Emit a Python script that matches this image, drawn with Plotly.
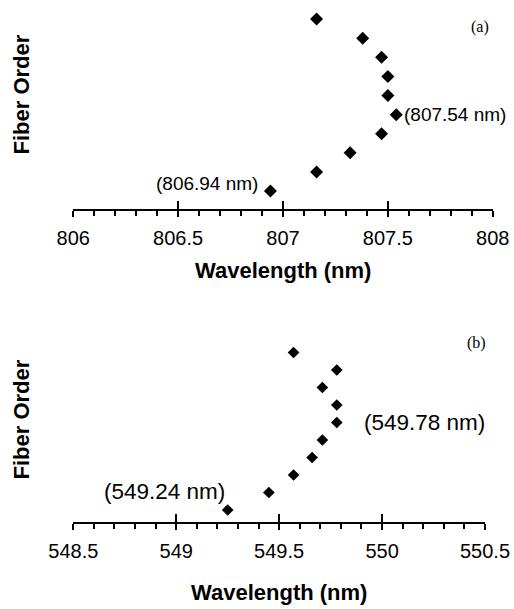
import plotly.graph_objects as go

# ---- data ----
order = [1, 2, 3, 4, 5, 6, 7, 8, 9, 10]
wavelength_a = [806.94, 807.16, 807.32, 807.47, 807.54, 807.50, 807.50, 807.47, 807.38, 807.16]
wavelength_b = [549.25, 549.45, 549.57, 549.66, 549.71, 549.78, 549.78, 549.71, 549.78, 549.57]
ticks_a = [806, 806.5, 807, 807.5, 808]
ticks_b = [548.5, 549, 549.5, 550, 550.5]
label_a_max = "(807.54 nm)"
label_a_min = "(806.94 nm)"
label_b_max = "(549.78 nm)"
label_b_min = "(549.24 nm)"

W, H = 514, 609
FONT = "Liberation Sans, Arial, sans-serif"

def px(x):
    return x / W

def py(y):
    return 1 - y / H

fig = go.Figure()
fig.add_trace(go.Scatter(x=wavelength_a, y=order, mode="markers", xaxis="x", yaxis="y",
                         marker=dict(symbol="diamond", size=10, color="black"), showlegend=False))
fig.add_trace(go.Scatter(x=wavelength_b, y=order, mode="markers", xaxis="x2", yaxis="y2",
                         marker=dict(symbol="diamond", size=9, color="black"), showlegend=False))

dom_a = [px(73.3), px(492.7)]
dom_b = [px(73.3), px(485)]

def xaxis_common(rng, ticks, dom, anchor):
    return dict(range=[rng[0], rng[1]], domain=dom, anchor=anchor, automargin=False,
                tickvals=ticks, ticktext=[f"{t:g}" for t in ticks],
                showline=True, linecolor="black", linewidth=2,
                ticks="outside", ticklen=6, tickwidth=2, tickcolor="black",
                minor=dict(dtick=0.1, ticks="outside", ticklen=5, tickwidth=2, tickcolor="black",
                           showgrid=False),
                showgrid=False, zeroline=False,
                tickfont=dict(family=FONT, size=20, color="black"),
                ticklabelstandoff=4)

def xaxis_overlay(rng, ticks, dom, anchor, over):
    return dict(range=[rng[0], rng[1]], domain=dom, anchor=anchor, overlaying=over,
                automargin=False,
                tickvals=ticks, showticklabels=False, showline=False,
                ticks="inside", ticklen=8, tickwidth=2, tickcolor="black",
                showgrid=False, zeroline=False)

fig.update_layout(
    width=W, height=H,
    margin=dict(l=0, r=0, t=0, b=0, pad=0, autoexpand=False),
    paper_bgcolor="white", plot_bgcolor="white",
    hovermode=False,
    xaxis=xaxis_common([806, 808], ticks_a, dom_a, "y"),
    xaxis3=xaxis_overlay([806, 808], ticks_a, dom_a, "y", "x"),
    yaxis=dict(range=[0.06, 11], domain=[py(209), 1.0], visible=False, anchor="x", automargin=False),
    xaxis2=xaxis_common([548.5, 550.5], ticks_b, dom_b, "y2"),
    xaxis4=xaxis_overlay([548.5, 550.5], ticks_b, dom_b, "y2", "x2"),
    yaxis2=dict(range=[0.33, 11], domain=[py(521.7), py(335)], visible=False, anchor="x2", automargin=False),
)

# invisible traces to activate overlay axes
fig.add_trace(go.Scatter(x=[None], y=[None], xaxis="x3", yaxis="y", showlegend=False, hoverinfo="skip"))
fig.add_trace(go.Scatter(x=[None], y=[None], xaxis="x4", yaxis="y2", showlegend=False, hoverinfo="skip"))

ann = []
# point labels
ann.append(dict(x=wavelength_a[4], y=order[4], xref="x", yref="y", text=label_a_max,
                xanchor="left", yanchor="middle", xshift=6, showarrow=False,
                font=dict(family=FONT, size=19, color="black")))
ann.append(dict(x=wavelength_a[0], y=order[0], xref="x", yref="y", text=label_a_min,
                xanchor="right", yanchor="middle", xshift=-10, yshift=8, showarrow=False,
                font=dict(family=FONT, size=19, color="black")))
ann.append(dict(x=wavelength_b[5], y=order[5], xref="x2", yref="y2", text=label_b_max,
                xanchor="left", yanchor="middle", xshift=25, showarrow=False,
                font=dict(family=FONT, size=22.5, color="black")))
ann.append(dict(x=wavelength_b[0], y=order[0], xref="x2", yref="y2", text=label_b_min,
                xanchor="right", yanchor="middle", xshift=-1, yshift=18, showarrow=False,
                font=dict(family=FONT, size=22.5, color="black")))
# panel tags
ann.append(dict(x=px(480), y=py(27), xref="paper", yref="paper", text="(a)", showarrow=False,
                xanchor="center", yanchor="middle",
                font=dict(family="Liberation Serif, Times New Roman, serif", size=16, color="black")))
ann.append(dict(x=px(476), y=py(343), xref="paper", yref="paper", text="(b)", showarrow=False,
                xanchor="center", yanchor="middle",
                font=dict(family="Liberation Serif, Times New Roman, serif", size=16, color="black")))
# axis titles
for (xx, yy) in [(282.5, 270), (279, 592)]:
    ann.append(dict(x=px(xx), y=py(yy), xref="paper", yref="paper", text="<b>Wavelength (nm)</b>",
                    showarrow=False, xanchor="center", yanchor="middle",
                    font=dict(family=FONT, size=22, color="black")))
for (xx, yy) in [(20.5, 95), (20.5, 420)]:
    ann.append(dict(x=px(xx), y=py(yy), xref="paper", yref="paper", text="<b>Fiber Order</b>",
                    showarrow=False, xanchor="center", yanchor="middle", textangle=-90,
                    font=dict(family=FONT, size=22, color="black")))

fig.update_layout(annotations=ann)
fig.write_html("out.html",
               config={"displayModeBar": False, "staticPlot": True},
               post_script="document.body.style.margin='0';document.body.style.padding='0';"
                           "document.body.style.overflow='hidden';")
